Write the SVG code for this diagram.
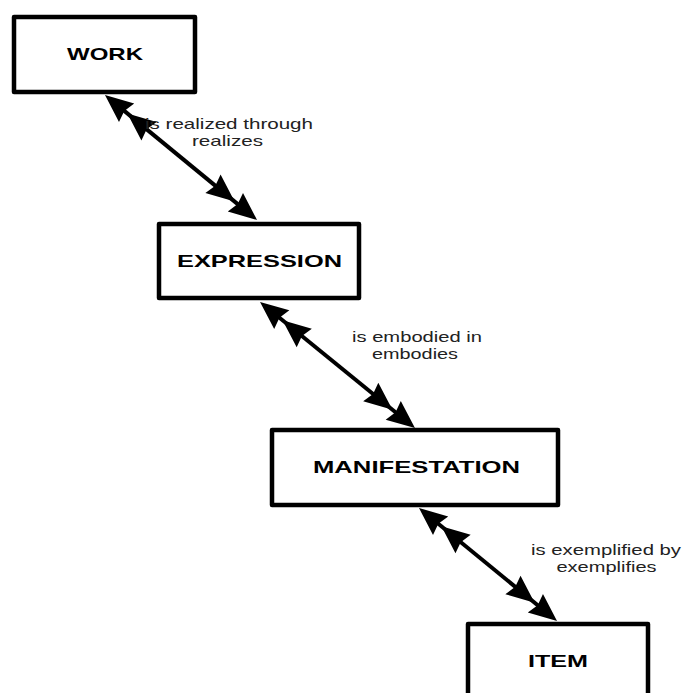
<svg xmlns="http://www.w3.org/2000/svg" width="682" height="693" viewBox="0 0 682 693">
  <style>
    .box { fill: #ffffff; stroke: #000000; stroke-width: 4.5; stroke-linejoin: round; }
    .title { font-family: "Liberation Sans", Arial, sans-serif; font-weight: bold; font-size: 17px; fill: #000000; text-anchor: middle; }
    .lbl { font-family: "Liberation Sans", Arial, sans-serif; font-size: 14.5px; fill: #222222; text-anchor: middle; }
    .conn { fill: none; stroke: #000000; stroke-width: 4; marker-start: url(#dbl); marker-end: url(#dbl); }
  </style>
  <defs>
    <marker id="dbl" viewBox="0 0 62 26" refX="52" refY="13" markerWidth="62" markerHeight="26" markerUnits="userSpaceOnUse" orient="auto-start-reverse">
      <path d="M62,13 L34,1 L37,13 L34,25 Z M33,13 L5,1 L8,13 L5,25 Z" fill="#000000"/>
    </marker>
  </defs>
  <rect width="682" height="693" fill="#ffffff"/>

  <g id="connectors">
    <line class="conn" x1="112.7" y1="101.4" x2="249.3" y2="213.6"/>
    <line class="conn" x1="267.8" y1="308.3" x2="407.2" y2="421.7"/>
    <line class="conn" x1="426.7" y1="514.3" x2="549.3" y2="614.7"/>
  </g>

  <g id="label-realized">
    <text class="lbl" x="229" y="129" textLength="168" lengthAdjust="spacingAndGlyphs">is realized through</text>
    <text class="lbl" x="227.5" y="146" textLength="71" lengthAdjust="spacingAndGlyphs">realizes</text>
  </g>
  <g id="label-embodied">
    <text class="lbl" x="417" y="342" textLength="130" lengthAdjust="spacingAndGlyphs">is embodied in</text>
    <text class="lbl" x="415" y="359" textLength="86" lengthAdjust="spacingAndGlyphs">embodies</text>
  </g>
  <g id="label-exemplified">
    <text class="lbl" x="606" y="555" textLength="150" lengthAdjust="spacingAndGlyphs">is exemplified by</text>
    <text class="lbl" x="606.5" y="572" textLength="100" lengthAdjust="spacingAndGlyphs">exemplifies</text>
  </g>

  <g id="work">
    <rect class="box" x="14" y="17" width="181" height="75"/>
    <text class="title" x="105" y="60" textLength="76" lengthAdjust="spacingAndGlyphs">WORK</text>
  </g>
  <g id="expression">
    <rect class="box" x="159" y="224" width="200" height="74"/>
    <text class="title" x="259.5" y="267" textLength="165" lengthAdjust="spacingAndGlyphs">EXPRESSION</text>
  </g>
  <g id="manifestation">
    <rect class="box" x="272" y="430" width="286" height="75"/>
    <text class="title" x="416.5" y="473" textLength="207" lengthAdjust="spacingAndGlyphs">MANIFESTATION</text>
  </g>
  <g id="item">
    <rect class="box" x="468" y="624" width="180" height="75"/>
    <text class="title" x="558" y="667" textLength="60" lengthAdjust="spacingAndGlyphs">ITEM</text>
  </g>
</svg>
